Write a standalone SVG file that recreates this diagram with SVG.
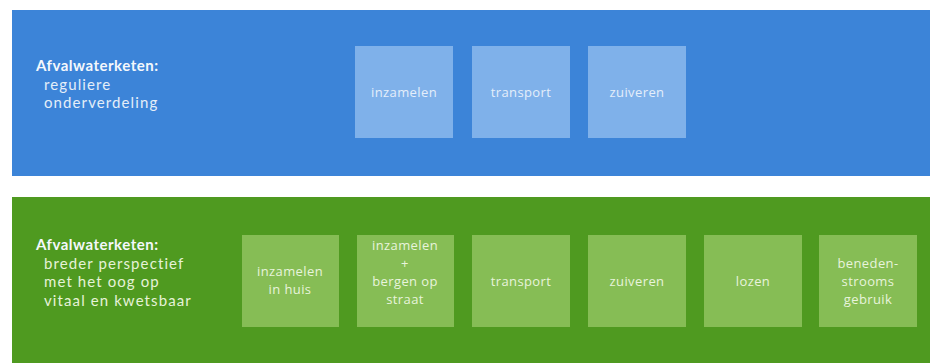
<svg xmlns="http://www.w3.org/2000/svg" width="930" height="363" viewBox="0 0 930 363">
<style>
.title{font-family:Lato,"Open Sans","Liberation Sans",sans-serif;font-size:15px;font-weight:bold;letter-spacing:0.5px;fill:#f4f8fc}
.sub{font-family:Lato,"Open Sans","Liberation Sans",sans-serif;font-size:15px;letter-spacing:1.1px;fill:#e4eef8}
.subg{font-family:Lato,"Open Sans","Liberation Sans",sans-serif;font-size:15px;letter-spacing:1.1px;fill:#e6f2d8}
.bl{font-family:"Open Sans","Noto Sans","Liberation Sans",sans-serif;font-size:13px;letter-spacing:0.4px;fill:#e4eefa;text-anchor:middle}
.gl{font-family:"Open Sans","Noto Sans","Liberation Sans",sans-serif;font-size:13px;letter-spacing:0.4px;fill:#e8f4dc;text-anchor:middle}
.bbox{fill:#7fb1ea}
.gbox{fill:#86bd55}
</style>
<rect width="930" height="363" fill="#ffffff"/>
<rect id="band-blue" x="12" y="10" width="918" height="166" fill="#3c84d8"/>
<rect id="band-green" x="12" y="197" width="918" height="166" fill="#4f9a20"/>
<g id="label-blue">
<text class="title" x="36" y="71">Afvalwaterketen:</text>
<text class="sub" x="44" y="89.5">reguliere</text>
<text class="sub" x="44" y="108">onderverdeling</text>
</g>
<g id="label-green">
<text class="title" x="36" y="250">Afvalwaterketen:</text>
<text class="subg" x="44" y="268.5">breder perspectief</text>
<text class="subg" x="44" y="287">met het oog op</text>
<text class="subg" x="44" y="305.5">vitaal en kwetsbaar</text>
</g>
<g id="b-inzamelen"><rect class="bbox" x="355" y="46" width="98" height="92"/><text class="bl" x="404" y="97">inzamelen</text></g>
<g id="b-transport"><rect class="bbox" x="472" y="46" width="98" height="92"/><text class="bl" x="521" y="97">transport</text></g>
<g id="b-zuiveren"><rect class="bbox" x="588" y="46" width="98" height="92"/><text class="bl" x="637" y="97">zuiveren</text></g>
<g id="g-inzamelen-huis"><rect class="gbox" x="242" y="235" width="97" height="92"/><text class="gl" x="290" y="276">inzamelen</text><text class="gl" x="290" y="294">in huis</text></g>
<g id="g-inzamelen-bergen"><rect class="gbox" x="357" y="235" width="97" height="92"/><text class="gl" x="405" y="250">inzamelen</text><text class="gl" x="405" y="268">+</text><text class="gl" x="405" y="286">bergen op</text><text class="gl" x="405" y="304">straat</text></g>
<g id="g-transport"><rect class="gbox" x="472" y="235" width="98" height="92"/><text class="gl" x="521" y="286">transport</text></g>
<g id="g-zuiveren"><rect class="gbox" x="588" y="235" width="98" height="92"/><text class="gl" x="637" y="286">zuiveren</text></g>
<g id="g-lozen"><rect class="gbox" x="704" y="235" width="98" height="92"/><text class="gl" x="753" y="286">lozen</text></g>
<g id="g-beneden"><rect class="gbox" x="819" y="235" width="98" height="92"/><text class="gl" x="868" y="268">beneden-</text><text class="gl" x="868" y="286">strooms</text><text class="gl" x="868" y="304">gebruik</text></g>
<g id="connectors"/>
</svg>
